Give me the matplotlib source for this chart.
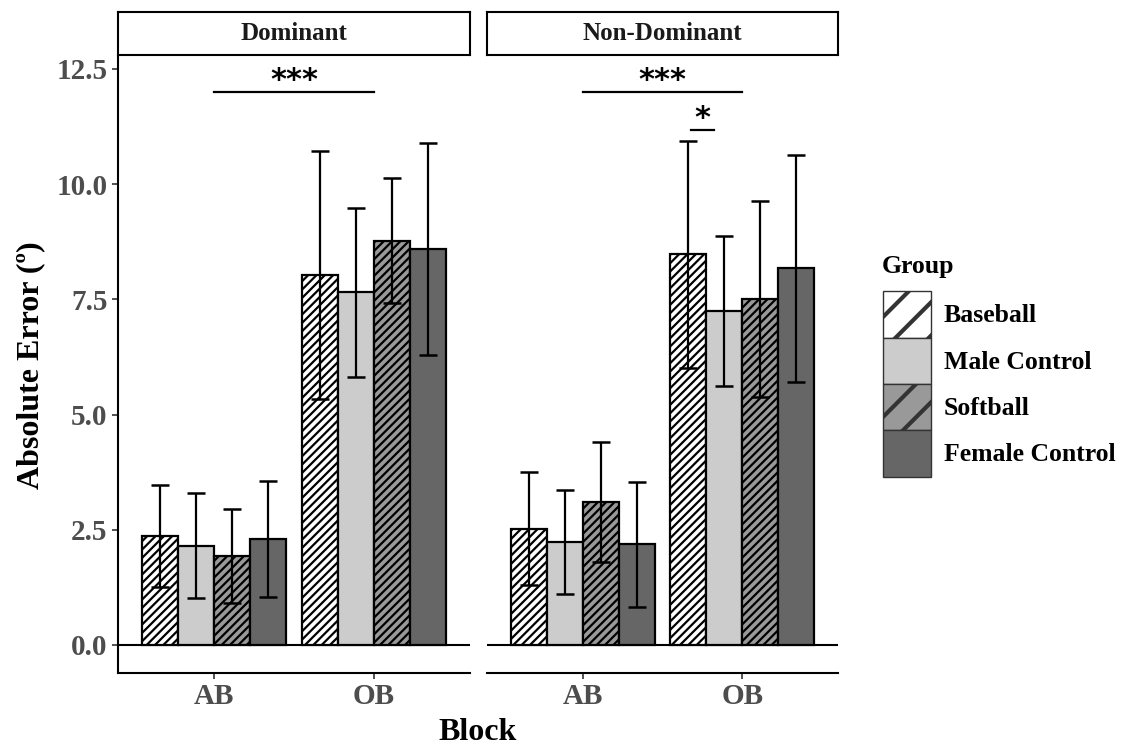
import matplotlib
matplotlib.use("Agg")
import matplotlib.pyplot as plt
from matplotlib.patches import Patch
import numpy as np

plt.rcParams["font.family"] = ["Liberation Serif", "DejaVu Serif"]
plt.rcParams["font.weight"] = "bold"
plt.rcParams["hatch.linewidth"] = 1.6

groups = ["Baseball", "Male Control", "Softball", "Female Control"]
blocks = ["AB", "OB"]
panels = ["Dominant", "Non-Dominant"]

# mean absolute error per block, one list per group order above
dom_ab = [2.37, 2.15, 1.92, 2.29]
dom_ob = [8.03, 7.65, 8.77, 8.60]
dom_ab_sd = [1.11, 1.14, 1.02, 1.26]
dom_ob_sd = [2.70, 1.84, 1.36, 2.30]

nondom_ab = [2.52, 2.23, 3.10, 2.18]
nondom_ob = [8.48, 7.25, 7.51, 8.17]
nondom_ab_sd = [1.23, 1.13, 1.31, 1.36]
nondom_ob_sd = [2.46, 1.62, 2.13, 2.46]

# significance brackets: (x1, x2, y, label)
dom_sig = [(1, 2, 12.0, "***")]
nondom_sig = [(1, 2, 12.0, "***"), (1.68, 1.82, 11.18, "*")]

fills = ["white", "#cccccc", "#999999", "#666666"]
hatches = ["////", None, "////", None]

panel_data = [
    (dom_ab, dom_ob, dom_ab_sd, dom_ob_sd, dom_sig),
    (nondom_ab, nondom_ob, nondom_ab_sd, nondom_ob_sd, nondom_sig),
]

fig = plt.figure(figsize=(11.26, 7.46), dpi=100)
W, H = 1126, 746
panel_x = [(118, 470), (487, 838)]
top_px, bot_px = 57, 673

width = 0.9 / len(groups)
xpos = np.arange(1, len(blocks) + 1)

for p, (name, (ab, ob, ab_sd, ob_sd, sigs)) in enumerate(zip(panels, panel_data)):
    x0, x1 = panel_x[p]
    ax = fig.add_axes([x0 / W, 1 - bot_px / H, (x1 - x0) / W, (bot_px - top_px) / H])
    for i, g in enumerate(groups):
        vals = [ab[i], ob[i]]
        errs = [ab_sd[i], ob_sd[i]]
        xs = xpos + (i - 1.5) * width
        ax.bar(xs, vals, width=width, color=fills[i], edgecolor="black",
               linewidth=1.6, hatch=hatches[i], zorder=2)
        ax.errorbar(xs, vals, yerr=errs, fmt="none", ecolor="black",
                    elinewidth=1.6, capsize=6.5, capthick=1.8, zorder=3)
    ax.axhline(0, color="black", lw=1.5, zorder=1)
    for (sx1, sx2, sy, lab) in sigs:
        ax.plot([sx1, sx2], [sy, sy], color="black", lw=1.6)
        ax.text((sx1 + sx2) / 2, sy - 0.07, lab, ha="center", va="bottom",
                fontsize=22, fontweight="bold", family="DejaVu Sans")

    ax.set_xlim(0.4, 2.6)
    ax.set_ylim(-0.61, 12.76)
    ax.set_xticks(xpos)
    ax.set_xticklabels(blocks)
    ax.set_yticks([0, 2.5, 5.0, 7.5, 10.0, 12.5])
    ax.tick_params(axis="both", labelsize=21, labelcolor="#4d4d4d",
                   length=4, width=1.2, colors="#333333")
    for lab in ax.get_xticklabels() + ax.get_yticklabels():
        lab.set_color("#4d4d4d")
        lab.set_fontweight("bold")
    ax.spines["top"].set_visible(False)
    ax.spines["right"].set_visible(False)
    ax.spines["bottom"].set_linewidth(1.5)
    ax.spines["left"].set_linewidth(1.5)
    if p == 0:
        ax.set_yticklabels(["0.0", "2.5", "5.0", "7.5", "10.0", "12.5"])
        ax.set_ylabel("Absolute Error (º)", fontsize=23, fontweight="bold", labelpad=8)
    else:
        ax.spines["left"].set_visible(False)
        ax.tick_params(axis="y", left=False, labelleft=False)

    # facet strip
    sax = fig.add_axes([x0 / W, 1 - 55 / H, (x1 - x0) / W, 43 / H])
    sax.set_xticks([])
    sax.set_yticks([])
    for s in sax.spines.values():
        s.set_linewidth(1.5)
    sax.text(0.5, 0.5, name, ha="center", va="center", fontsize=18,
             fontweight="bold", color="#1a1a1a", transform=sax.transAxes)

fig.text((118 + 838) / 2 / W, 1 - 733 / H, "Block", ha="center", va="center",
         fontsize=23, fontweight="bold")

handles = [Patch(facecolor=fills[i], edgecolor="#333333", hatch=("/" if hatches[i] else None),
                 linewidth=1.0) for i in range(len(groups))]
leg = fig.legend(handles, groups, loc="upper left",
                 bbox_to_anchor=(860 / W, 1 - 268 / H), frameon=False,
                 fontsize=18.5, handlelength=1.85,
                 handleheight=2.4, labelspacing=0.0, handletextpad=0.5)
for h in leg.legend_handles:
    if hasattr(h, "set_hatch_linewidth"):
        h.set_hatch_linewidth(3.0)
fig.text(882 / W, 1 - 267 / H, "Group", ha="left", va="center",
         fontsize=18.5, fontweight="bold")

fig.savefig("out.png", dpi=100)
